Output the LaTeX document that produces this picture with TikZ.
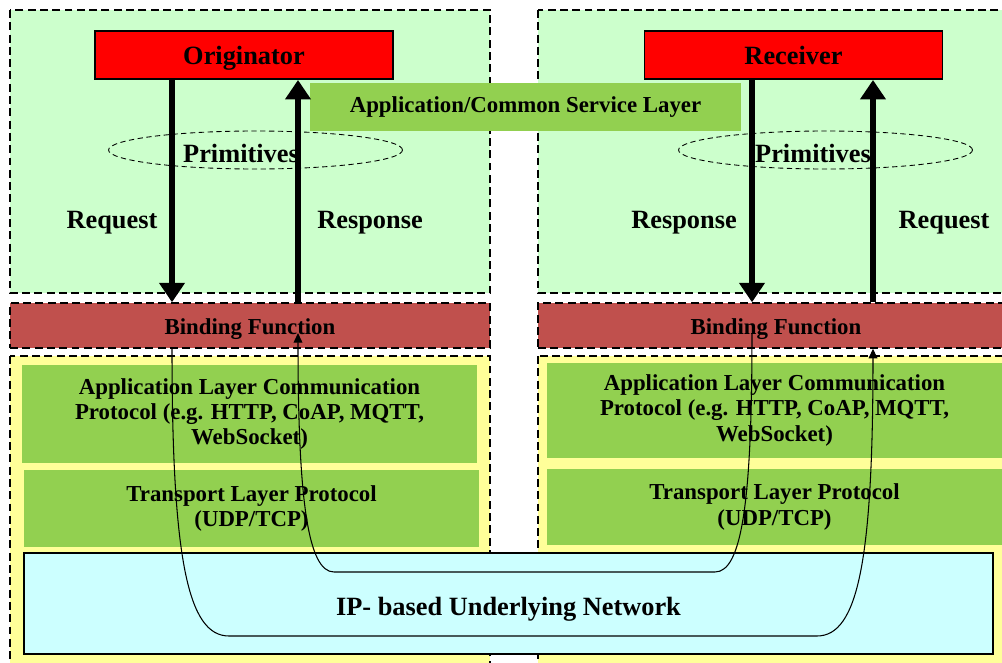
\documentclass[tikz,border=0pt]{standalone}
\usepackage{fontspec}
\setmainfont{Liberation Serif}
\usetikzlibrary{arrows.meta,shapes.geometric,positioning}

\definecolor{entitybg}{HTML}{CCFFCC}
\definecolor{cselayer}{HTML}{92D050}
\definecolor{bindred}{HTML}{C0504D}
\definecolor{protobg}{HTML}{FFFF99}
\definecolor{netcyan}{HTML}{CCFFFF}

\newcommand{\bigtext}{\fontsize{15}{18}\selectfont\bfseries}
\newcommand{\smalltext}{\fontsize{13}{14.3}\selectfont\bfseries}

\begin{document}
\begin{tikzpicture}[x=0.02cm,y=-0.02cm,
        layer/.style={draw,dash pattern=on 4.5pt off 2.5pt,line width=0.8pt},
        entity/.style={draw,fill=red,line width=1.1pt,minimum width=5.96cm,minimum height=0.96cm,inner sep=0pt,text height=11.5pt,text depth=1pt,font=\bigtext},
        binding/.style={layer,fill=bindred,minimum height=0.9cm,inner sep=0pt,text height=11pt,text depth=0.6pt,font=\smalltext},
        proto/.style={fill=cselayer,inner sep=0pt,align=center,font=\smalltext},
        prims/.style={ellipse,draw,dash pattern=on 3pt off 2pt,line width=0.5pt,minimum width=5.88cm,minimum height=0.76cm,inner sep=0pt},
        label/.style={font=\bigtext},
        primitive/.style={-{Triangle[width=14pt,length=11pt]},line width=3.4pt},
        path line/.style={-{Triangle[width=5pt,length=5.5pt]},line width=0.6pt}]

    \useasboundingbox (0,0) rectangle (1002,663);
    \clip (0,0) rectangle (1002,663);

    % entity areas
    \draw[layer,fill=entitybg] (10,10) rectangle (490,293);
    \draw[layer,fill=entitybg] (538,10) rectangle (1014,293);
    \draw[layer,fill=protobg] (10,356) rectangle (490,672);
    \draw[layer,fill=protobg] (538,356) rectangle (1014,672);

    \node[entity] (orig) at (244,55) {Originator};
    \node[entity] (recv) at (793.5,55) {Receiver};
    \node[proto,minimum width=8.62cm,minimum height=0.96cm] (csl) at (525.5,107) {Application/Common Service Layer};

    \node[prims] (primL) at (255.5,150) {};
    \node[prims] (primR) at (825.5,150) {};
    \node[label] at (241,153) {Primitives};
    \node[label] at (813,153) {Primitives};

    \node[binding,minimum width=9.6cm] (bindL) at (250,325.5) {Binding Function};
    \node[binding,minimum width=9.52cm] (bindR) at (776,325.5) {Binding Function};

    % protocol stacks
    \node[proto,minimum width=9.1cm,minimum height=1.96cm] (applL) at (249.5,414) {Application Layer Communication\\Protocol (e.g. HTTP, CoAP, MQTT,\\WebSocket)};
    \node[proto,minimum width=9.1cm,minimum height=1.54cm] (tranL) at (251.5,508.5) {Transport Layer Protocol\\(UDP/TCP)};
    \node[proto,minimum width=9.1cm,minimum height=1.9cm] (applR) at (774.5,410.5) {Application Layer Communication\\Protocol (e.g. HTTP, CoAP, MQTT,\\WebSocket)};
    \node[proto,minimum width=9.1cm,minimum height=1.52cm] (tranR) at (774.5,507) {Transport Layer Protocol\\(UDP/TCP)};

    \node[draw,fill=netcyan,line width=1.1pt,minimum width=19.38cm,minimum height=2.02cm,inner sep=0pt,text height=14pt,text depth=0.3pt,font=\bigtext] (net) at (508.5,603.5) {IP- based Underlying Network};

    % primitives
    \coordinate (reqL) at (172,0);
    \coordinate (rspL) at (298,0);
    \coordinate (rspR) at (752,0);
    \coordinate (reqR) at (873,0);
    \draw[primitive] (orig.south -| reqL) -- (bindL.north -| reqL);
    \draw[primitive] (bindL.north -| rspL) -- (orig.south -| rspL);
    \draw[primitive] (recv.south -| rspR) -- (bindR.north -| rspR);
    \draw[primitive] (bindR.north -| reqR) -- (recv.south -| reqR);
    \node[label] at (112,223) {Request};
    \node[label] at (370,223) {Response};
    \node[label] at (684,223) {Response};
    \node[label] at (944,223) {Request};

    % message paths through the network
    \draw[path line] (bindL.south -| reqL) .. controls (172,560) and (188,636) .. (229,636)
        -- (817,636) .. controls (858,636) and (873,560) .. (bindR.south -| reqR);
    \draw[path line] (752,333) .. controls (752,500) and (742,572) .. (715,572)
        -- (334,572) .. controls (308,572) and (298,500) .. (298,333);
\end{tikzpicture}
\end{document}
